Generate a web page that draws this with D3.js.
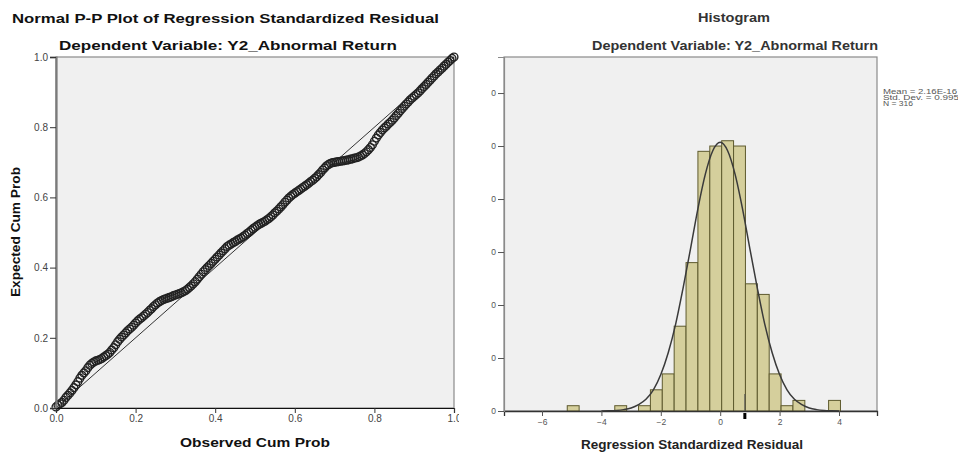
<!DOCTYPE html>
<html><head><meta charset="utf-8">
<script src="https://cdn.jsdelivr.net/npm/d3@7"></script>
<style>body{margin:0;background:#fff}svg{display:block;font-family:"Liberation Sans",Arial,sans-serif}</style>
</head><body>
<svg id="c" width="958" height="456"></svg>
<script>
// ---------- P-P plot data ----------
const ppObserved = [0,0.005,0.01,0.015,0.02,0.025,0.03,0.035,0.04,0.045,0.05,0.055,0.06,0.065,0.07,0.075,0.08,0.085,0.09,0.095,
0.1,0.105,0.11,0.115,0.12,0.125,0.13,0.135,0.14,0.145,0.15,0.155,0.16,0.165,0.17,0.175,0.18,0.185,0.19,0.195,
0.2,0.205,0.21,0.215,0.22,0.225,0.23,0.235,0.24,0.245,0.25,0.255,0.26,0.265,0.27,0.275,0.28,0.285,0.29,0.295,
0.3,0.305,0.31,0.315,0.32,0.325,0.33,0.335,0.34,0.345,0.35,0.355,0.36,0.365,0.37,0.375,0.38,0.385,0.39,0.395,
0.4,0.405,0.41,0.415,0.42,0.425,0.43,0.435,0.44,0.445,0.45,0.455,0.46,0.465,0.47,0.475,0.48,0.485,0.49,0.495,
0.5,0.505,0.51,0.515,0.52,0.525,0.53,0.535,0.54,0.545,0.55,0.555,0.56,0.565,0.57,0.575,0.58,0.585,0.59,0.595,
0.6,0.605,0.61,0.615,0.62,0.625,0.63,0.635,0.64,0.645,0.65,0.655,0.66,0.665,0.67,0.675,0.68,0.685,0.69,0.695,
0.7,0.705,0.71,0.715,0.72,0.725,0.73,0.735,0.74,0.745,0.75,0.755,0.76,0.765,0.77,0.775,0.78,0.785,0.79,0.795,
0.8,0.805,0.81,0.815,0.82,0.825,0.83,0.835,0.84,0.845,0.85,0.855,0.86,0.865,0.87,0.875,0.88,0.885,0.89,0.895,
0.9,0.905,0.91,0.915,0.92,0.925,0.93,0.935,0.94,0.945,0.95,0.955,0.96,0.965,0.97,0.975,0.98,0.985,0.99,0.995,1.0];
const ppExpected = [0.003,0.008,0.012,0.016,0.022,0.030,0.036,0.043,0.050,0.058,0.066,0.075,0.085,0.093,0.100,0.106,0.115,0.122,0.127,0.131,
0.134,0.136,0.138,0.141,0.145,0.149,0.153,0.158,0.165,0.172,0.180,0.189,0.196,0.202,0.208,0.214,0.220,0.225,0.230,0.236,
0.242,0.248,0.253,0.257,0.262,0.267,0.272,0.278,0.283,0.289,0.294,0.299,0.303,0.306,0.309,0.311,0.313,0.315,0.317,0.320,
0.322,0.324,0.326,0.328,0.331,0.334,0.338,0.343,0.348,0.354,0.360,0.367,0.374,0.381,0.388,0.394,0.400,0.406,0.412,0.418,
0.424,0.430,0.436,0.442,0.448,0.454,0.460,0.464,0.467,0.471,0.474,0.478,0.481,0.484,0.488,0.492,0.497,0.501,0.506,0.511,
0.515,0.519,0.523,0.526,0.529,0.532,0.536,0.540,0.545,0.550,0.556,0.561,0.567,0.573,0.579,0.586,0.592,0.598,0.603,0.608,
0.612,0.616,0.620,0.624,0.628,0.632,0.636,0.640,0.645,0.649,0.654,0.659,0.665,0.671,0.678,0.684,0.690,0.694,0.697,0.699,
0.700,0.701,0.702,0.703,0.704,0.705,0.706,0.707,0.709,0.710,0.712,0.713,0.715,0.718,0.721,0.725,0.730,0.736,0.742,0.750,
0.760,0.769,0.778,0.785,0.792,0.798,0.803,0.809,0.814,0.820,0.826,0.833,0.840,0.847,0.853,0.860,0.866,0.872,0.878,0.883,
0.888,0.893,0.898,0.904,0.910,0.916,0.922,0.928,0.934,0.940,0.946,0.952,0.957,0.963,0.968,0.974,0.979,0.985,0.990,0.996,1.000];
const ppTicks = [0,0.2,0.4,0.6,0.8,1.0];

// ---------- Histogram data ----------
const binLower  = [-5.15,-3.55,-2.75,-2.35,-1.95,-1.55,-1.15,-0.75,-0.35,0.05,0.45,0.85,1.25,1.65,2.05,2.45,3.65];
const binCounts = [1,1,1,4,7,16,28,49,50,51,50,24,22,7,1,2,2];
const binWidth = 0.4;
const curveX = [-4,-3.75,-3.5,-3.25,-3,-2.75,-2.5,-2.25,-2,-1.75,-1.5,-1.25,-1,-0.75,-0.5,-0.25,0,0.25,0.5,0.75,1,1.25,1.5,1.75,2,2.25,2.5,2.75,3,3.25,3.5,3.75,4];
const curveY = [0.02,0.05,0.11,0.26,0.56,1.2,2.2,4.0,6.9,11.0,16.4,23.2,30.6,38.2,44.7,49.1,50.7,49.1,44.7,38.2,30.6,23.2,16.4,11.0,6.9,4.0,2.2,1.2,0.56,0.26,0.11,0.05,0.02];
const histXTicks = [-6,-4,-2,0,2,4];
const histYTicks = [0,10,20,30,40,50,60];
const statsLines = ["Mean = 2.16E-16","Std. Dev. = 0.995","N = 316"];

const svg = d3.select("#c");

// ================= P-P PLOT =================
const L = {x0:56, x1:454, y0:57, y1:408};
const px = d3.scaleLinear().domain([0,1]).range([L.x0,L.x1]);
const py = d3.scaleLinear().domain([0,1]).range([L.y1,L.y0]);

svg.append("text").attr("x",12).attr("y",23).attr("font-size",13.5).attr("font-weight","bold")
  .attr("fill","#111").attr("textLength",427).attr("lengthAdjust","spacingAndGlyphs")
  .text("Normal P-P Plot of Regression Standardized Residual");
svg.append("text").attr("x",59).attr("y",50).attr("font-size",13.5).attr("font-weight","bold")
  .attr("fill","#111").attr("textLength",338).attr("lengthAdjust","spacingAndGlyphs")
  .text("Dependent Variable: Y2_Abnormal Return");

svg.append("rect").attr("x",L.x0).attr("y",L.y0).attr("width",L.x1-L.x0).attr("height",L.y1-L.y0)
  .attr("fill","#f0f0f0").attr("stroke","#8a8a8a").attr("stroke-width",1.2);

// diagonal
svg.append("line").attr("x1",px(0)).attr("y1",py(0)).attr("x2",px(1)).attr("y2",py(1))
  .attr("stroke","#333").attr("stroke-width",1);

// points
svg.append("g").selectAll("circle").data(ppObserved).join("circle")
  .attr("cx",(d)=>px(d)).attr("cy",(d,i)=>py(ppExpected[i])).attr("r",3.9)
  .attr("fill","none").attr("stroke","#222").attr("stroke-width",1.4);

// axes
const yAxL = svg.append("g").attr("transform",`translate(${L.x0},0)`)
  .call(d3.axisLeft(py).tickValues(ppTicks).tickFormat(d3.format(".1f")).tickSize(6).tickPadding(2));
const xAxL = svg.append("g").attr("transform",`translate(0,${L.y1})`)
  .call(d3.axisBottom(px).tickValues(ppTicks).tickFormat(d3.format(".1f")).tickSize(5).tickPadding(2));
[yAxL,xAxL].forEach(g=>{
  g.selectAll("text").attr("font-size",10).attr("fill","#444").attr("font-family","Liberation Sans, Arial, sans-serif");
  g.selectAll(".tick line").attr("stroke","#333");
});
yAxL.select(".domain").attr("stroke","#7a7a7a").attr("stroke-width",2.2);
xAxL.select(".domain").attr("stroke","#111").attr("stroke-width",1.2);

svg.append("text").attr("x",255).attr("y",447).attr("text-anchor","middle").attr("font-size",12.5)
  .attr("font-weight","bold").attr("fill","#111").attr("textLength",150).attr("lengthAdjust","spacingAndGlyphs")
  .text("Observed Cum Prob");
svg.append("text").attr("transform","translate(20,232) rotate(-90)").attr("text-anchor","middle")
  .attr("font-size",12.5).attr("font-weight","bold").attr("fill","#111")
  .attr("textLength",130).attr("lengthAdjust","spacingAndGlyphs").text("Expected Cum Prob");

// clip "1.0" at panel edge
svg.append("rect").attr("x",459).attr("y",412).attr("width",20).attr("height",20).attr("fill","#fff");

// ================= HISTOGRAM =================
const H = {x0:504, x1:877, y0:57, y1:411};
const hx = d3.scaleLinear().domain([-7.28,5.28]).range([H.x0,H.x1]);
const hy = d3.scaleLinear().domain([0,66.8]).range([H.y1,H.y0]);

svg.append("text").attr("x",734).attr("y",22).attr("text-anchor","middle").attr("font-size",12)
  .attr("font-weight","bold").attr("fill","#333").attr("textLength",72).attr("lengthAdjust","spacingAndGlyphs")
  .text("Histogram");
svg.append("text").attr("x",735).attr("y",50).attr("text-anchor","middle").attr("font-size",12)
  .attr("font-weight","bold").attr("fill","#333").attr("textLength",286).attr("lengthAdjust","spacingAndGlyphs")
  .text("Dependent Variable: Y2_Abnormal Return");

svg.append("rect").attr("x",H.x0).attr("y",H.y0).attr("width",H.x1-H.x0).attr("height",H.y1-H.y0)
  .attr("fill","#f0f0f0").attr("stroke","#8a8a8a").attr("stroke-width",1.2);

svg.append("g").selectAll("rect").data(binLower).join("rect")
  .attr("x",d=>hx(d)).attr("width",d=>hx(d+binWidth)-hx(d))
  .attr("y",(d,i)=>hy(binCounts[i])).attr("height",(d,i)=>hy(0)-hy(binCounts[i]))
  .attr("fill","#d5cf9c").attr("stroke","#5e5a2e").attr("stroke-width",1);

svg.append("path").datum(curveX)
  .attr("d",d3.line().x(d=>hx(d)).y((d,i)=>hy(curveY[i])).curve(d3.curveMonotoneX))
  .attr("fill","none").attr("stroke","#3a3a3a").attr("stroke-width",1.5);

const xAxH = svg.append("g").attr("transform",`translate(0,${H.y1})`)
  .call(d3.axisBottom(hx).tickValues(histXTicks).tickSize(5).tickPadding(3));
const clip = svg.append("clipPath").attr("id","yclip");
clip.append("rect").attr("x",-13).attr("y",0).attr("width",100).attr("height",456);
const yAxH = svg.append("g").attr("transform",`translate(${H.x0},0)`).attr("clip-path","url(#yclip)")
  .call(d3.axisLeft(hy).tickValues(histYTicks).tickSize(6).tickPadding(2));
[xAxH,yAxH].forEach(g=>{
  g.selectAll("text").attr("font-size",8.5).attr("fill","#555").attr("font-family","Liberation Sans, Arial, sans-serif");
  g.selectAll(".tick line").attr("stroke","#555");
});
xAxH.select(".domain").attr("stroke","#333").attr("stroke-width",1.3);
yAxH.select(".domain").attr("stroke","#8a8a8a").attr("stroke-width",1.2);

// marker below axis
svg.append("line").attr("x1",hx(0.83)).attr("x2",hx(0.83)).attr("y1",H.y1-17).attr("y2",H.y1)
  .attr("stroke","#555").attr("stroke-width",1);
svg.append("rect").attr("x",hx(0.83)-1.5).attr("y",H.y1+2).attr("width",3).attr("height",6).attr("fill","#000");

svg.append("text").attr("x",692).attr("y",449).attr("text-anchor","middle").attr("font-size",12)
  .attr("font-weight","bold").attr("fill","#222").attr("textLength",222).attr("lengthAdjust","spacingAndGlyphs")
  .text("Regression Standardized Residual");

const statLens = [74,76,30];
svg.append("g").selectAll("text").data(statsLines).join("text")
  .attr("x",883).attr("y",(d,i)=>94+i*6).attr("font-size",7).attr("fill","#555")
  .attr("textLength",(d,i)=>statLens[i]).attr("lengthAdjust","spacingAndGlyphs").text(d=>d);
</script>
</body></html>
